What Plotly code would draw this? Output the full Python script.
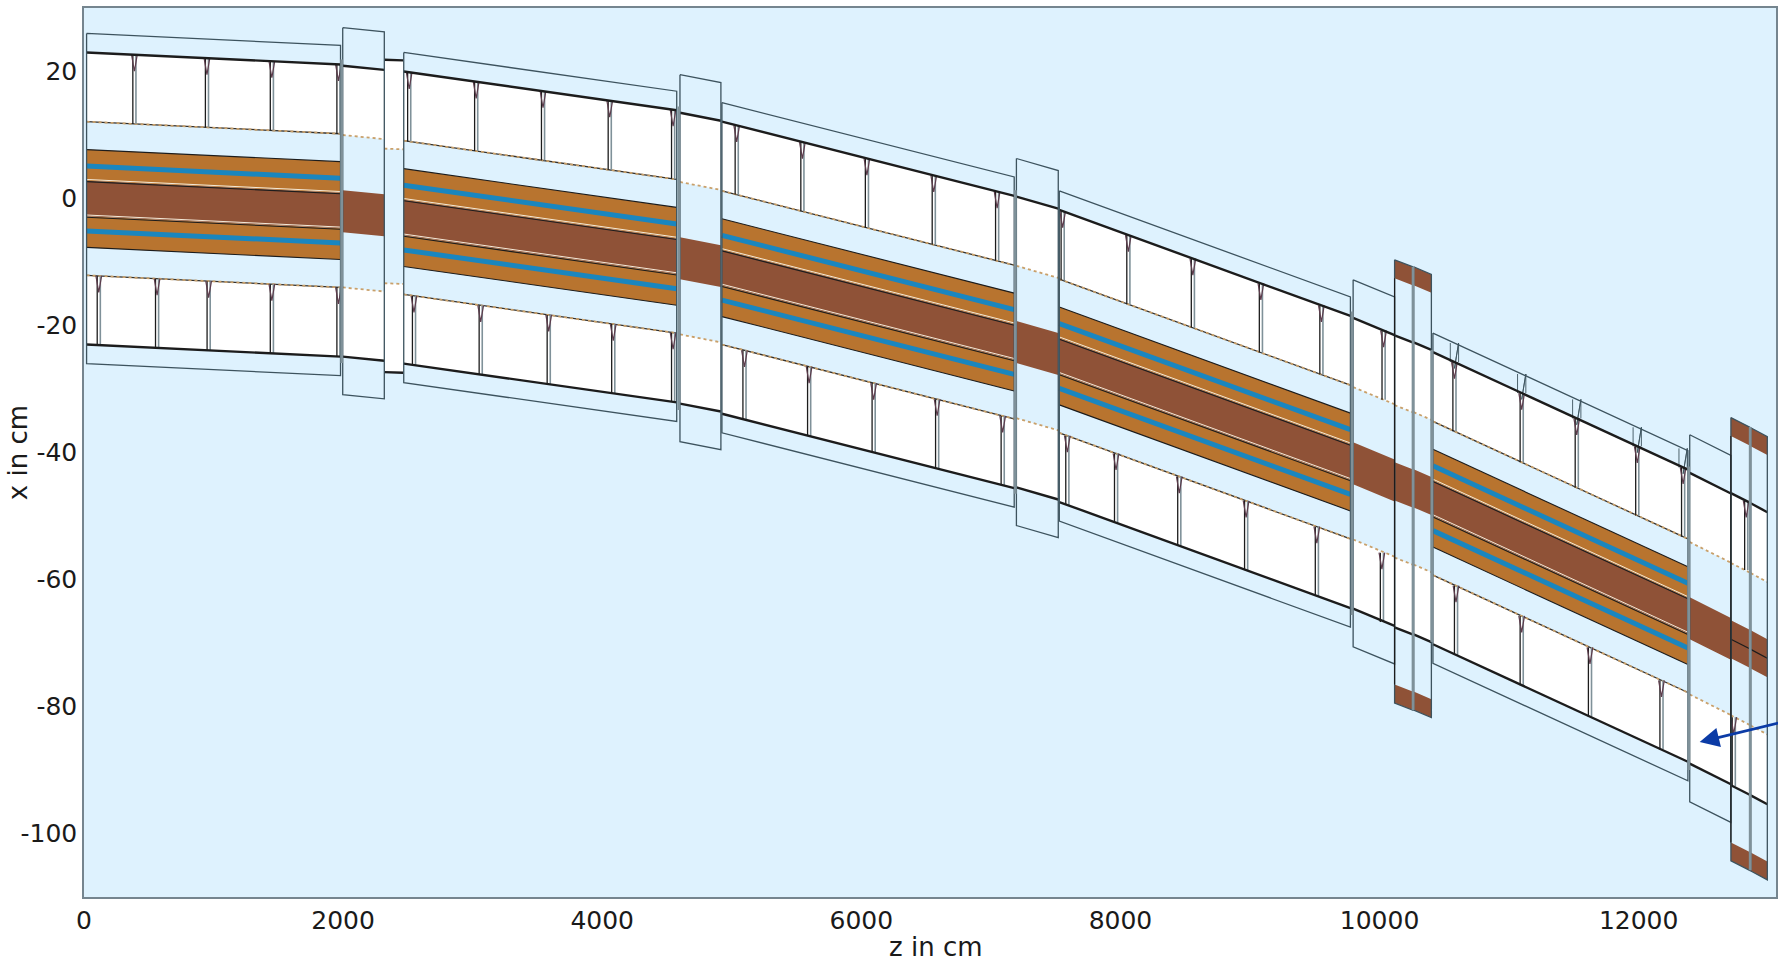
import numpy as np
import plotly.graph_objects as go

# ---- axis ticks
x_ticks = [0, 2000, 4000, 6000, 8000, 10000, 12000]
y_ticks = [20, 0, -20, -40, -60, -80, -100]
y_tick_text = ["20", "0", "-20", "-40", "-60", "-80", "-100"]

# ---- long magnets (z in cm, beam-line centre x in cm)
mod_z0 = [20, 2468, 4924, 7528, 10412]
mod_z1 = [1980, 4575, 7180, 9775, 12380]
mod_c0 = [0.0, -3.0, -10.9, -24.8, -47.2]
mod_c1 = [-1.9, -9.1, -22.6, -41.5, -65.7]
# half widths of the long magnets
mod_box, mod_yoke, mod_inner, mod_coil, mod_core, mod_blue = 26.0, 23.0, 12.1, 7.7, 2.8, 5.1

# ---- short connecting sections
gap_z0 = [1997, 4600, 7197, 9796, 12394]
gap_z1 = [2318, 4916, 7520, 10116, 12712]
gap_c0 = [-2.0, -9.4, -22.6, -41.7, -66.1]
gap_c1 = [-2.65, -10.65, -24.5, -44.4, -69.35]
gap_box, gap_yoke, gap_inner, gap_core = 28.9, 22.9, 12.0, 3.3

# ---- open drift piece
drift_z = [2318, 2463]
drift_c = [-2.75, -2.85]
drift_yoke, drift_inner = 24.6, 10.6

# ---- narrow pairs with brown end caps
quad_z0 = [10116, 10263, 12712, 12865]
quad_z1 = [10255, 10400, 12857, 12993]
quad_c0 = [-44.55, -45.65, -69.4, -71.0]
quad_c1 = [-45.65, -46.85, -70.9, -72.4]
quad_outer, quad_cap, quad_yoke, quad_inner, quad_core = 34.9, 32.0, 23.0, 12.0, 3.0

# ---- separators inside the yoke
pins_top = [389, 949, 1450, 1964, 2510, 3027, 3543, 4058, 4547, 5038, 5545, 6043, 6559, 7048,
            7554, 8061, 8559, 9084, 9551, 10031, 10578, 11097, 11522, 11989, 12343, 12830]
pins_bot = [114, 564, 962, 1450, 1964, 2547, 3062, 3587, 4085, 4547, 5098, 5597, 6095, 6585, 7091,
            7590, 7966, 8454, 8970, 9516, 10018, 10590, 11097, 11624, 12176, 12734]
pins_raised = [10578, 11097, 11522, 11989, 12343]

# ---- arrow
arrow_tip = (12471, -85.6)
arrow_tail = (13150, -82.26)

BG, WHITE = "#def2fe", "#ffffff"
ORANGE, BROWN, BLUE = "#b8742f", "#8f5237", "#1a86bf"
DARK, SLATE, GREY, TAN = "#1c1c1c", "#3d535e", "#7f9199", "#c9a06a"

chain = sorted(zip(mod_z0 + mod_z1 + gap_z0 + gap_z1 + quad_z0 + quad_z1,
                   mod_c0 + mod_c1 + gap_c0 + gap_c1 + quad_c0 + quad_c1))
chain_z = [p[0] for p in chain]
chain_c = [p[1] for p in chain]
def centre(z):
    return float(np.interp(z, chain_z, chain_c))

fig = go.Figure()

def polys(items, fill, line=None, width=0):
    xs, ys = [], []
    for px, py in items:
        xs += list(px) + [px[0], None]
        ys += list(py) + [py[0], None]
    fig.add_trace(go.Scatter(x=xs, y=ys, mode="lines", fill="toself", fillcolor=fill,
                             line=dict(color=line or fill, width=width),
                             hoverinfo="skip", showlegend=False))

def lines(items, color, width, dash=None):
    xs, ys = [], []
    for px, py in items:
        xs += list(px) + [None]
        ys += list(py) + [None]
    fig.add_trace(go.Scatter(x=xs, y=ys, mode="lines",
                             line=dict(color=color, width=width, dash=dash),
                             hoverinfo="skip", showlegend=False))

def band(z0, z1, c0, c1, lo, hi):
    return ([z0, z1, z1, z0], [c0 + hi, c1 + hi, c1 + lo, c0 + lo])

def edge(z0, z1, c0, c1, off):
    return ([z0, z1], [c0 + off, c1 + off])

mods = list(zip(mod_z0, mod_z1, mod_c0, mod_c1))
gaps = list(zip(gap_z0, gap_z1, gap_c0, gap_c1))
quads = list(zip(quad_z0, quad_z1, quad_c0, quad_c1))
drift = (drift_z[0], drift_z[1], drift_c[0], drift_c[1])

# white yoke
white = []
for m in mods:
    white += [band(*m, mod_inner, mod_yoke), band(*m, -mod_yoke, -mod_inner)]
for g in gaps:
    white += [band(*g, gap_inner, gap_yoke), band(*g, -gap_yoke, -gap_inner)]
for q in quads:
    white += [band(*q, quad_inner, quad_yoke), band(*q, -quad_yoke, -quad_inner)]
white += [band(*drift, drift_inner, drift_yoke), band(*drift, -drift_yoke, -drift_inner)]
polys(white, WHITE)

# coils
orange = []
for m in mods:
    orange += [band(*m, mod_core, mod_coil), band(*m, -mod_coil, -mod_core)]
polys(orange, ORANGE)

# brown cores and caps
brown = []
for m in mods:
    brown.append(band(*m, -mod_core, mod_core))
for g in gaps:
    brown.append(band(*g, -gap_core, gap_core))
for q in quads:
    brown += [band(*q, -quad_core, quad_core),
              band(*q, quad_cap, quad_outer), band(*q, -quad_outer, -quad_cap)]
polys(brown, BROWN)

# blue stripes
lines([edge(*m, mod_blue) for m in mods] + [edge(*m, -mod_blue) for m in mods], BLUE, 5)

# outlines of the coils
coil_edges = []
white_edges = []
for m in mods:
    coil_edges += [edge(*m, mod_coil), edge(*m, -mod_coil), edge(*m, mod_core - 0.15), edge(*m, -mod_core - 0.15)]
    white_edges += [edge(*m, mod_core + 0.2), edge(*m, -mod_core + 0.2)]
lines(white_edges, "#f4ead8", 1.0)
lines(coil_edges, DARK, 1.1)

# inner yoke boundary
inner_solid, inner_dash = [], []
for m in mods:
    inner_solid += [edge(*m, mod_inner), edge(*m, -mod_inner)]
for g in gaps:
    inner_dash += [edge(*g, gap_inner), edge(*g, -gap_inner)]
for q in quads:
    inner_dash += [edge(*q, quad_inner), edge(*q, -quad_inner)]
inner_dash += [edge(*drift, drift_inner), edge(*drift, -drift_inner)]
lines(inner_solid, "#33302c", 1.3)
lines(inner_solid + inner_dash, TAN, 1.8, "dot")

# separators
pin_dark, pin_grey, pin_v = [], [], []
for z in pins_top:
    c = centre(z)
    pin_dark.append(([z - 12, z - 12], [c + mod_yoke, c + mod_inner]))
    pin_grey.append(([z + 12, z + 12], [c + mod_yoke, c + mod_inner]))
    pin_v.append(([z - 22, z, z + 22], [c + mod_yoke, c + mod_yoke - 2.6, c + mod_yoke]))
for z in pins_bot:
    c = centre(z)
    pin_dark.append(([z - 12, z - 12], [c - mod_inner, c - mod_yoke]))
    pin_grey.append(([z + 12, z + 12], [c - mod_inner, c - mod_yoke]))
    pin_v.append(([z - 22, z, z + 22], [c - mod_inner, c - mod_inner - 2.6, c - mod_inner]))
lines(pin_grey, GREY, 1.6)
lines(pin_dark, DARK, 1.3)
lines(pin_v, "#5d3c4c", 1.2)
raised = []
for z in pins_raised:
    c = centre(z)
    raised += [([z - 32, z - 32], [c + mod_box, c + mod_yoke]),
               ([z + 32, z + 32], [c + mod_box, c + mod_yoke]),
               ([z + 32, z, z + 32], [c + mod_box, c + mod_yoke - 1, c + mod_box])]
lines(raised, SLATE, 0.9)

# thick yoke lines
yoke = []
for m in mods:
    yoke += [edge(*m, mod_yoke), edge(*m, -mod_yoke)]
for g in gaps:
    yoke += [edge(*g, gap_yoke), edge(*g, -gap_yoke)]
for q in quads:
    yoke += [edge(*q, quad_yoke), edge(*q, -quad_yoke)]
yoke += [edge(*drift, drift_yoke), edge(*drift, -drift_yoke)]
lines(yoke, DARK, 2.4)

# centre line in the last pair
lines([edge(*q, 0) for q in quads[2:]], DARK, 1.2)

# box outlines
box = [band(*m, -mod_box, mod_box) for m in mods] + [band(*g, -gap_box, gap_box) for g in gaps] + \
      [band(*q, -quad_outer, quad_outer) for q in quads]
lines([(list(b[0]) + [b[0][0]], list(b[1]) + [b[1][0]]) for b in box], SLATE, 1.3)

# heavy edges between the sections
heavy_grey = [([g[0] - 8, g[0] - 8], [g[2] + gap_yoke + 1, g[2] - gap_yoke - 1]) for g in gaps]
heavy_grey += [([q[1] + 4, q[1] + 4], [q[3] + quad_outer, q[3] - quad_outer]) for q in quads[0::2]]
heavy_grey += [([q[1] + 4, q[1] + 4], [q[3] + quad_yoke, q[3] - quad_yoke]) for q in quads[1:2]]
lines(heavy_grey, GREY, 2.8)
lines([([q[0], q[0]], [q[2] + quad_cap, q[2] - quad_cap]) for q in quads[0::2]], DARK, 1.2)

fig.add_annotation(x=arrow_tip[0], y=arrow_tip[1], ax=arrow_tail[0], ay=arrow_tail[1],
                   xref="x", yref="y", axref="x", ayref="y", text="", showarrow=True,
                   arrowhead=2, arrowsize=1.5, arrowwidth=2.6, arrowcolor="#0b3ba6", standoff=0)

font = dict(family="DejaVu Sans", size=25, color="#1a1a1a")
title_font = dict(family="DejaVu Sans", size=26, color="#1a1a1a")
fig.add_annotation(text="z in cm", xref="paper", yref="paper", x=0.5037, y=-0.0565, borderpad=0, borderwidth=0,
                   yanchor="middle", xanchor="center", showarrow=False, font=title_font)
fig.add_annotation(text="x in cm", xref="paper", yref="paper", x=-0.0392, y=0.5, borderpad=0, borderwidth=0,
                   textangle=-90, yanchor="middle", xanchor="center", showarrow=False, font=title_font)
axis_common = dict(showgrid=False, zeroline=False, showline=True, mirror=True, linecolor="#75858f",
                   linewidth=1.5, ticks="", tickfont=font)
fig.update_layout(
    width=1778, height=961, autosize=False,
    margin=dict(l=84, r=0, t=8, b=64, pad=0),
    paper_bgcolor="white", plot_bgcolor=BG, showlegend=False,
    xaxis=dict(range=[0, 13060], tickvals=x_ticks, ticktext=[str(v) for v in x_ticks], **axis_common),
    yaxis=dict(range=[-110, 30], tickvals=y_ticks, ticktext=y_tick_text, **axis_common),
)
fig.write_html("out.html", config={"displayModeBar": False},
               post_script="document.body.style.margin='0';document.documentElement.style.overflow='hidden';")
